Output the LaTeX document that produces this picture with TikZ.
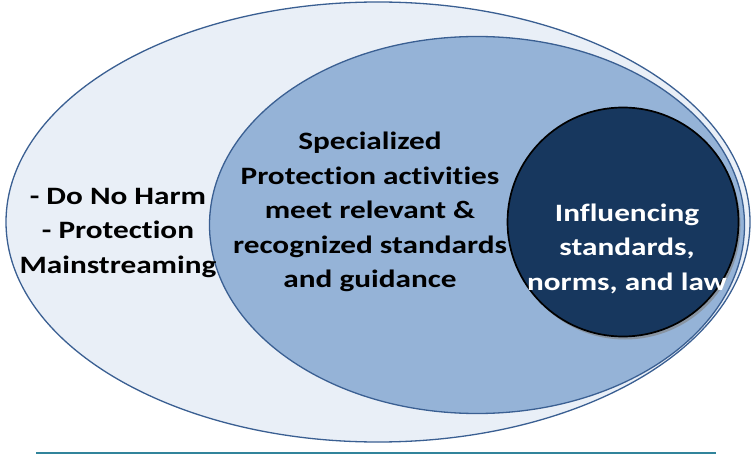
\documentclass[tikz,border=0pt]{standalone}
\usepackage{fontspec}
\setmainfont[FakeStretch=1.25, Ligatures=NoCommon]{Carlito}
\usetikzlibrary{shapes.geometric,shadows}
\definecolor{outerfill}{HTML}{E9EFF7}
\definecolor{midfill}{HTML}{95B3D7}
\definecolor{edgeblue}{HTML}{3A5F92}
\definecolor{navy}{HTML}{17375E}
\definecolor{teal}{HTML}{31849B}
\tikzset{
  blob/.style={ellipse, draw=edgeblue, line width=1.3pt, inner sep=0pt, outer sep=0pt},
  lbl/.style={align=center, font=\fontsize{25}{34.5}\selectfont\bfseries, inner sep=0pt},
}
\begin{document}
\begin{tikzpicture}[x=1pt,y=-1pt]
\useasboundingbox (0,0) rectangle (754,454);
\node[blob, fill=outerfill, minimum width=744pt, minimum height=440pt] (outer) at (378,222) {};
\node[blob, fill=midfill, minimum width=535pt, minimum height=377pt] (mid) at (477,225) {};
\node[ellipse, draw=black, line width=1.7pt, fill=navy, minimum width=231pt, minimum height=229pt, inner sep=0pt,
  drop shadow={shadow xshift=2pt, shadow yshift=-3pt, opacity=0.6}] (core) at (623,222) {};
\node[lbl] (lt) at (118,233) {- Do No Harm\\- Protection\\Mainstreaming};
\node[lbl] (mt) at (370,212) {Specialized\\Protection activities\\meet relevant \&\\recognized standards\\and guidance};
\node[lbl, text=white] (ct) at (627,248.5) {Influencing\\standards,\\norms, and law};
\coordinate (la) at (36,453);
\coordinate (lb) at (716,453);
\draw[teal, line width=2.2pt] (la) -- (lb);
\end{tikzpicture}
\end{document}
